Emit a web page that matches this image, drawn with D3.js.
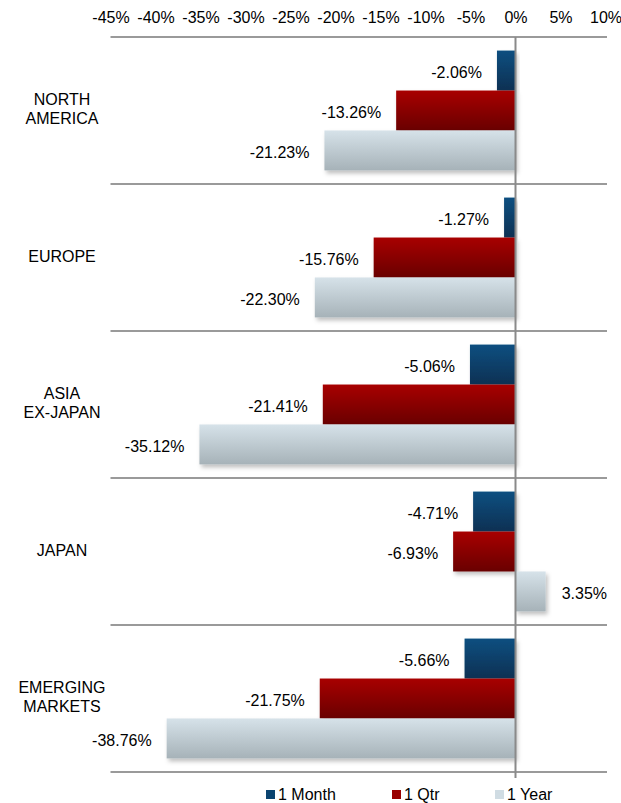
<!DOCTYPE html>
<html>
<head>
<meta charset="utf-8">
<script src="https://cdn.jsdelivr.net/npm/d3@7"></script>
<style>
  body { margin: 0; background: #fff; }
  svg { display: block; font-family: "Liberation Sans", Arial, sans-serif; }
</style>
</head>
<body>
<svg id="chart" width="621" height="803"></svg>
<script>
const categories = [["NORTH", "AMERICA"], ["EUROPE"], ["ASIA", "EX-JAPAN"], ["JAPAN"], ["EMERGING", "MARKETS"]];
const categoryKeys = ["NORTH AMERICA", "EUROPE", "ASIA EX-JAPAN", "JAPAN", "EMERGING MARKETS"];
const seriesNames = ["1 Month", "1 Qtr", "1 Year"];
const month1 = [-2.06, -1.27, -5.06, -4.71, -5.66];
const qtr1 = [-13.26, -15.76, -21.41, -6.93, -21.75];
const year1 = [-21.23, -22.30, -35.12, 3.35, -38.76];
const tickValues = [-45, -40, -35, -30, -25, -20, -15, -10, -5, 0, 5, 10];

const seriesValues = [month1, qtr1, year1];
const gradients = [
  ["#0d4f80", "#0a3053"],
  ["#a80000", "#690000"],
  ["#d6e2e9", "#a6b2b8"]
];
const legendColors = ["#0b4470", "#990000", "#d0dce3"];

const svg = d3.select("#chart");
const defs = svg.append("defs");
gradients.forEach((g, i) => {
  const lg = defs.append("linearGradient").attr("id", "grad" + i)
    .attr("x1", 0).attr("y1", 0).attr("x2", 0).attr("y2", 1);
  lg.append("stop").attr("offset", "0%").attr("stop-color", g[0]);
  lg.append("stop").attr("offset", "100%").attr("stop-color", g[1]);
});
const filt = defs.append("filter").attr("id", "shadow")
  .attr("x", "-10%").attr("y", "-20%").attr("width", "130%").attr("height", "160%");
filt.append("feDropShadow").attr("dx", 2).attr("dy", 3).attr("stdDeviation", 2)
  .attr("flood-color", "#000").attr("flood-opacity", 0.25);

const plotLeft = 110.5, plotRight = 605.5, plotTop = 37, plotBottom = 772;
const x = d3.scaleLinear().domain([-45, 10]).range([plotLeft, plotRight]);
const y = d3.scaleBand().domain(categoryKeys).range([plotTop, plotBottom]).paddingInner(0).paddingOuter(0);
const inner = d3.scaleBand().domain(seriesNames).range([0, y.bandwidth()]).paddingInner(0).paddingOuter(0.34);

// Top axis labels
const axis = d3.axisTop(x).tickValues(tickValues).tickSize(0).tickPadding(0)
  .tickFormat(d => d + "%");
const ax = svg.append("g").attr("transform", `translate(0,${23})`).call(axis);
ax.select(".domain").remove();
ax.selectAll("text").attr("font-size", 16).attr("fill", "#000").attr("dy", 0)
  .attr("font-family", "Liberation Sans, Arial, sans-serif");

// Category separator lines
const bounds = categoryKeys.map(k => y(k)).concat([plotBottom]);
svg.append("g").selectAll("line").data(bounds).join("line")
  .attr("x1", plotLeft).attr("x2", 607)
  .attr("y1", d => d).attr("y2", d => d)
  .attr("stroke", "#9a9a9a").attr("stroke-width", 2);

// Bars
const barData = [];
categoryKeys.forEach((c, ci) => {
  seriesNames.forEach((s, si) => {
    barData.push({ cat: c, series: s, si: si, value: seriesValues[si][ci] });
  });
});

const gBars = svg.append("g");
gBars.selectAll("rect").data(barData).join("rect")
  .attr("x", d => Math.min(x(0), x(d.value)))
  .attr("width", d => Math.abs(x(d.value) - x(0)))
  .attr("y", d => y(d.cat) + inner(d.series))
  .attr("height", inner.bandwidth())
  .attr("fill", d => `url(#grad${d.si})`)
  .attr("filter", "url(#shadow)");

// Zero line
svg.append("line").attr("x1", x(0)).attr("x2", x(0))
  .attr("y1", plotTop).attr("y2", plotBottom + 6)
  .attr("stroke", "#8a8a8a").attr("stroke-width", 2);

// Data labels
svg.append("g").selectAll("text").data(barData).join("text")
  .attr("x", d => d.value < 0 ? x(d.value) - 15 : x(d.value) + 16)
  .attr("y", d => y(d.cat) + inner(d.series) + inner.bandwidth() / 2 + 2)
  .attr("dy", "0.35em")
  .attr("text-anchor", d => d.value < 0 ? "end" : "start")
  .attr("font-size", 16).attr("fill", "#000")
  .text(d => d.value.toFixed(2) + "%");

// Category labels
const catG = svg.append("g");
categories.forEach((lines, ci) => {
  const cy = y(categoryKeys[ci]) + y.bandwidth() / 2 - 1.5;
  const t = catG.append("text").attr("x", 62).attr("text-anchor", "middle")
    .attr("font-size", 16).attr("fill", "#000");
  const n = lines.length;
  lines.forEach((ln, li) => {
    t.append("tspan").attr("x", 62)
      .attr("y", cy + (li - (n - 1) / 2) * 19)
      .attr("dy", "0.35em").text(ln);
  });
});

// Legend
const legendX = [266, 392, 495];
const lgd = svg.append("g");
seriesNames.forEach((s, i) => {
  lgd.append("rect").attr("x", legendX[i]).attr("y", 790).attr("width", 9).attr("height", 9)
    .attr("fill", legendColors[i]);
  lgd.append("text").attr("x", legendX[i] + 12).attr("y", 800)
    .attr("font-size", 16).attr("fill", "#000").text(s);
});
</script>
</body>
</html>
